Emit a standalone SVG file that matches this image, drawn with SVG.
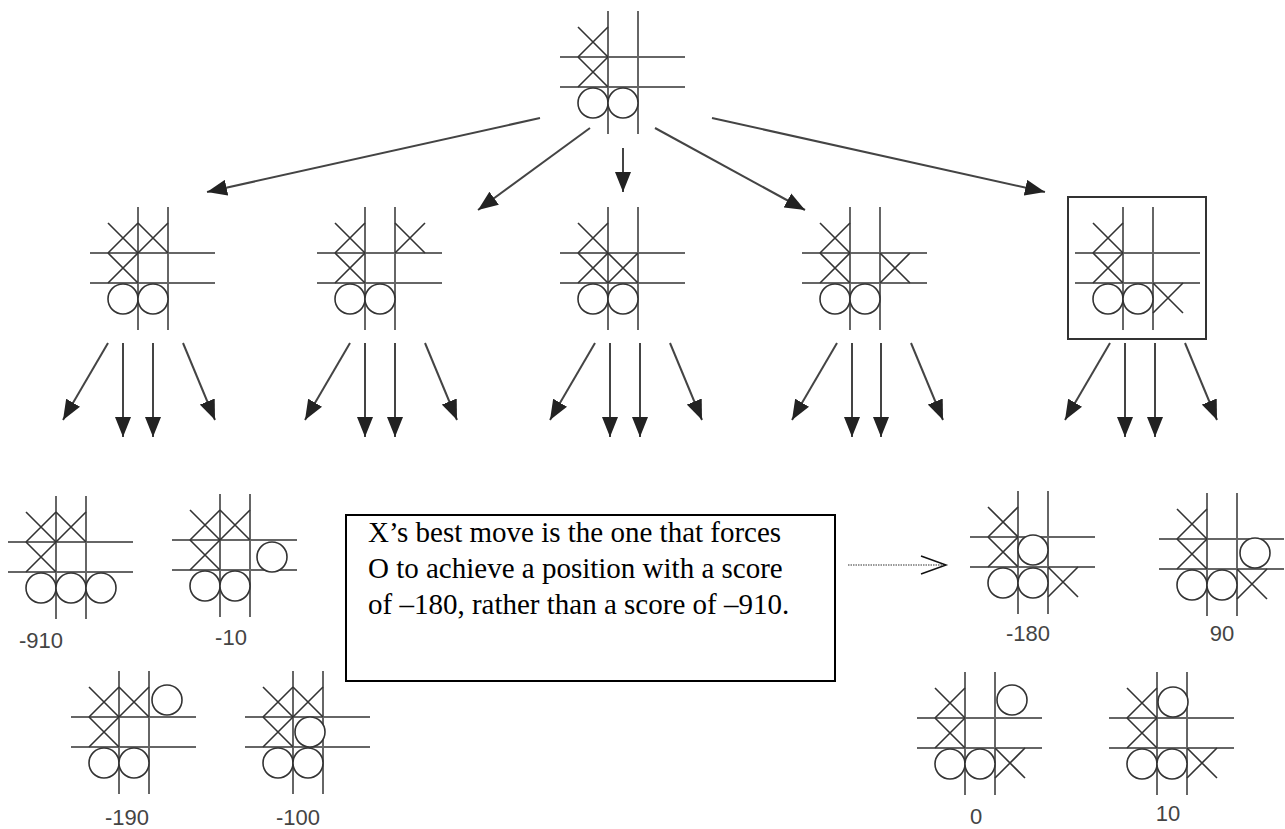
<svg xmlns="http://www.w3.org/2000/svg" xmlns:xlink="http://www.w3.org/1999/xlink" width="1285" height="829" viewBox="0 0 1285 829">
<style>
.grid{stroke:#666;stroke-width:2;fill:none}
.xm{stroke:#333;stroke-width:1.6;fill:none}
.om{stroke:#333;stroke-width:1.6;fill:#fff}
.conn{stroke:#444;stroke-width:2;fill:none}
.score{font-family:"Liberation Sans",Arial,sans-serif;font-size:22px;fill:#444;text-anchor:middle}
.note{font-family:"Liberation Serif","Times New Roman",serif;font-size:29px;fill:#000}
</style>
<defs>
<marker id="ah" viewBox="0 0 20 16" refX="20" refY="8" markerWidth="20" markerHeight="16" markerUnits="userSpaceOnUse" orient="auto">
<path d="M0,0 L20,8 L0,16 z" fill="#222"/>
</marker>
<g id="grid"><path class="grid" d="M0,-46 V77 M30,-46 V77 M-48,0 H77 M-48,30 H77"/></g>
<path id="x00" class="xm" d="M-30,-30 L0,0 M0,-30 L-30,0"/>
<path id="x01" class="xm" d="M0,-30 L30,0 M30,-30 L0,0"/>
<path id="x02" class="xm" d="M30,-30 L60,0 M60,-30 L30,0"/>
<path id="x10" class="xm" d="M-30,0 L0,30 M0,0 L-30,30"/>
<path id="x11" class="xm" d="M0,0 L30,30 M30,0 L0,30"/>
<path id="x12" class="xm" d="M30,0 L60,30 M60,0 L30,30"/>
<path id="x22" class="xm" d="M30,30 L60,60 M60,30 L30,60"/>
<circle id="o20" class="om" cx="-15" cy="46" r="15"/>
<circle id="o21" class="om" cx="15" cy="46" r="15"/>
<circle id="o22" class="om" cx="45" cy="46" r="15"/>
</defs>
<rect width="1285" height="829" fill="#fff"/>

<g id="connectors">
<line class="conn" x1="540" y1="118" x2="207" y2="192" marker-end="url(#ah)"/>
<line class="conn" x1="590" y1="128" x2="478" y2="210" marker-end="url(#ah)"/>
<line class="conn" x1="623" y1="148" x2="623" y2="192" marker-end="url(#ah)"/>
<line class="conn" x1="655" y1="128" x2="805" y2="210" marker-end="url(#ah)"/>
<line class="conn" x1="712" y1="118" x2="1045" y2="192" marker-end="url(#ah)"/>

<line class="conn" x1="108" y1="343" x2="63" y2="420" marker-end="url(#ah)"/>
<line class="conn" x1="123" y1="343" x2="123" y2="437" marker-end="url(#ah)"/>
<line class="conn" x1="153" y1="343" x2="153" y2="437" marker-end="url(#ah)"/>
<line class="conn" x1="183" y1="343" x2="215" y2="420" marker-end="url(#ah)"/>

<line class="conn" x1="350" y1="343" x2="305" y2="420" marker-end="url(#ah)"/>
<line class="conn" x1="365" y1="343" x2="365" y2="437" marker-end="url(#ah)"/>
<line class="conn" x1="395" y1="343" x2="395" y2="437" marker-end="url(#ah)"/>
<line class="conn" x1="425" y1="343" x2="457" y2="420" marker-end="url(#ah)"/>

<line class="conn" x1="595" y1="343" x2="550" y2="420" marker-end="url(#ah)"/>
<line class="conn" x1="610" y1="343" x2="610" y2="437" marker-end="url(#ah)"/>
<line class="conn" x1="640" y1="343" x2="640" y2="437" marker-end="url(#ah)"/>
<line class="conn" x1="670" y1="343" x2="702" y2="420" marker-end="url(#ah)"/>

<line class="conn" x1="837" y1="343" x2="792" y2="420" marker-end="url(#ah)"/>
<line class="conn" x1="852" y1="343" x2="852" y2="437" marker-end="url(#ah)"/>
<line class="conn" x1="881" y1="343" x2="881" y2="437" marker-end="url(#ah)"/>
<line class="conn" x1="911" y1="343" x2="943" y2="420" marker-end="url(#ah)"/>

<line class="conn" x1="1110" y1="343" x2="1065" y2="420" marker-end="url(#ah)"/>
<line class="conn" x1="1125" y1="343" x2="1125" y2="437" marker-end="url(#ah)"/>
<line class="conn" x1="1155" y1="343" x2="1155" y2="437" marker-end="url(#ah)"/>
<line class="conn" x1="1185" y1="343" x2="1217" y2="420" marker-end="url(#ah)"/>

<line x1="848" y1="565" x2="944" y2="565" stroke="#333" stroke-width="1.2" stroke-dasharray="1.5,1"/>
<polyline points="921,556 946,565 921,574" fill="none" stroke="#111" stroke-width="1.5"/>
</g>

<g id="root" transform="translate(608,57)">
<use xlink:href="#grid"/><use xlink:href="#x00"/><use xlink:href="#x10"/><use xlink:href="#o20"/><use xlink:href="#o21"/>
</g>

<g id="child1" transform="translate(138,253)">
<use xlink:href="#grid"/><use xlink:href="#x00"/><use xlink:href="#x01"/><use xlink:href="#x10"/><use xlink:href="#o20"/><use xlink:href="#o21"/>
</g>
<g id="child2" transform="translate(365,253)">
<use xlink:href="#grid"/><use xlink:href="#x00"/><use xlink:href="#x02"/><use xlink:href="#x10"/><use xlink:href="#o20"/><use xlink:href="#o21"/>
</g>
<g id="child3" transform="translate(608,253)">
<use xlink:href="#grid"/><use xlink:href="#x00"/><use xlink:href="#x10"/><use xlink:href="#x11"/><use xlink:href="#o20"/><use xlink:href="#o21"/>
</g>
<g id="child4" transform="translate(850,253)">
<use xlink:href="#grid"/><use xlink:href="#x00"/><use xlink:href="#x10"/><use xlink:href="#x12"/><use xlink:href="#o20"/><use xlink:href="#o21"/>
</g>
<g id="child5" transform="translate(1123,253)">
<rect x="-55" y="-56" width="138" height="142" fill="none" stroke="#333" stroke-width="2"/>
<use xlink:href="#grid"/><use xlink:href="#x00"/><use xlink:href="#x10"/><use xlink:href="#x22"/><use xlink:href="#o20"/><use xlink:href="#o21"/>
</g>

<g id="leaf-910" transform="translate(56,542)">
<use xlink:href="#grid"/><use xlink:href="#x00"/><use xlink:href="#x01"/><use xlink:href="#x10"/><use xlink:href="#o20"/><use xlink:href="#o21"/><use xlink:href="#o22"/>
<text class="score" x="-15" y="106">-910</text>
</g>
<g id="leaf-10" transform="translate(220,540)">
<use xlink:href="#grid"/><use xlink:href="#x00"/><use xlink:href="#x01"/><use xlink:href="#x10"/><circle class="om" cx="52" cy="17" r="15"/><use xlink:href="#o20"/><use xlink:href="#o21"/>
<text class="score" x="11" y="105">-10</text>
</g>
<g id="leaf-190" transform="translate(119,717)">
<use xlink:href="#grid"/><use xlink:href="#x00"/><use xlink:href="#x01"/><use xlink:href="#x10"/><circle class="om" cx="48" cy="-17" r="15"/><use xlink:href="#o20"/><use xlink:href="#o21"/>
<text class="score" x="8" y="108">-190</text>
</g>
<g id="leaf-100" transform="translate(293,717)">
<use xlink:href="#grid"/><use xlink:href="#x00"/><use xlink:href="#x01"/><use xlink:href="#x10"/><circle class="om" cx="17" cy="15" r="15"/><use xlink:href="#o20"/><use xlink:href="#o21"/>
<text class="score" x="5" y="108">-100</text>
</g>

<g id="leaf-180" transform="translate(1018,537)">
<use xlink:href="#grid"/><use xlink:href="#x00"/><use xlink:href="#x10"/><use xlink:href="#x22"/><circle class="om" cx="15" cy="13" r="15"/><use xlink:href="#o20"/><use xlink:href="#o21"/>
<text class="score" x="10" y="104">-180</text>
</g>
<g id="leaf90" transform="translate(1207,539)">
<use xlink:href="#grid"/><use xlink:href="#x00"/><use xlink:href="#x10"/><use xlink:href="#x22"/><circle class="om" cx="48" cy="14" r="15"/><use xlink:href="#o20"/><use xlink:href="#o21"/>
<text class="score" x="15" y="102">90</text>
</g>
<g id="leaf0" transform="translate(965,718)">
<use xlink:href="#grid"/><use xlink:href="#x00"/><use xlink:href="#x10"/><use xlink:href="#x22"/><circle class="om" cx="47" cy="-18" r="15"/><use xlink:href="#o20"/><use xlink:href="#o21"/>
<text class="score" x="11" y="106">0</text>
</g>
<g id="leaf10" transform="translate(1157,718)">
<use xlink:href="#grid"/><use xlink:href="#x00"/><use xlink:href="#x10"/><use xlink:href="#x22"/><circle class="om" cx="16" cy="-16" r="15"/><use xlink:href="#o20"/><use xlink:href="#o21"/>
<text class="score" x="11" y="103">10</text>
</g>

<g id="note">
<rect x="346" y="515" width="489" height="166" fill="#fff" stroke="#000" stroke-width="2"/>
<text class="note" x="368" y="542">X’s best move is the one that forces</text>
<text class="note" x="368" y="578">O to achieve a position with a score</text>
<text class="note" x="368" y="614">of –180, rather than a score of –910.</text>
</g>
</svg>
